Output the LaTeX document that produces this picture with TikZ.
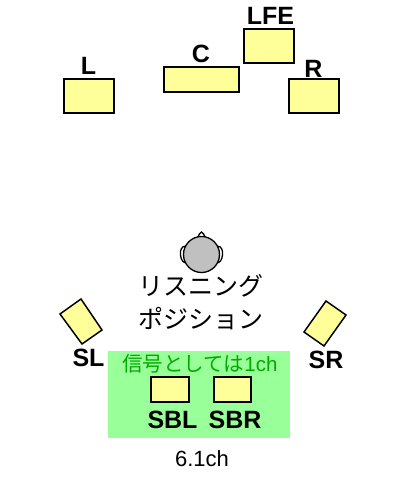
\documentclass[tikz,border=0pt]{standalone}
\usepackage{fontspec}
\setmainfont{Liberation Sans}
\newfontfamily\cjk{Noto Sans CJK JP}
\definecolor{spk}{RGB}{255,255,153}
\definecolor{pan}{RGB}{153,255,153}
\definecolor{grn}{RGB}{0,170,0}
\definecolor{hd}{RGB}{192,192,192}
\tikzset{
 spkbox/.style={draw=black,fill=spk,line width=1.5pt},
 lab/.style={font=\fontsize{25}{25}\selectfont\bfseries,inner sep=0pt,anchor=base},
 jp/.style={font=\fontsize{25}{25}\selectfont\cjk,inner sep=0pt,anchor=base},
 headline/.style={draw=black,line width=1.3pt}
}
\begin{document}
\begin{tikzpicture}[x=1pt,y=-1pt]
\useasboundingbox (0,0) rectangle (400,480);
\fill[pan] (108,351) rectangle (290,438);
\draw[spkbox] (64,79) rectangle (114,113);
\draw[spkbox] (164,67) rectangle (239,92);
\draw[spkbox] (244,29) rectangle (294,63);
\draw[spkbox] (289,79) rectangle (339,113);
\draw[spkbox] (151,377) rectangle (189,402);
\draw[spkbox] (214,377) rectangle (251,402);
\draw[spkbox] (60,314) -- (81,299) -- (102,330) -- (82,344) -- cycle;
\draw[spkbox] (304,332) -- (326,301) -- (346,315) -- (324,346) -- cycle;
\node[lab] (tL) at (88.5,74) {L};
\node[lab] (tC) at (201,62) {C};
\node[lab] (tLFE) at (270.5,24) {LFE};
\node[lab] (tR) at (313.5,77) {R};
\node[lab] (tSL) at (88.5,366) {SL};
\node[lab] (tSR) at (326,368) {SR};
\node[lab] (tSBL) at (172.5,428) {SBL};
\node[lab] (tSBR) at (235,428) {SBR};
% head
\draw[headline,fill=white] (186,246) .. controls (181.5,246) and (180,250) .. (180.5,255) .. controls (181,260) and (183,263) .. (187,263) -- cycle;
\draw[headline,fill=white] (217,246) .. controls (221.5,246) and (223,250) .. (222.5,255) .. controls (222,260) and (220,263) .. (216,263) -- cycle;
\draw[headline,fill=white] (197.5,238) .. controls (199,235) and (200,232) .. (201.5,232) .. controls (203,232) and (204,235) .. (205.5,238) -- cycle;
\draw[headline,fill=hd] (201.5,254.5) circle (18);
\node[jp] (t1) at (201,295) {リスニング};
\node[jp] (t2) at (201,328) {ポジション};
\node[inner sep=0pt,anchor=base,text=grn,font=\fontsize{20.5}{21}\selectfont] (t3) at (200,371) {{\cjk 信号としては}1ch};
\node[inner sep=0pt,anchor=base,font=\fontsize{22}{22}\selectfont] (t4) at (202,466) {6.1ch};
\end{tikzpicture}
\end{document}
